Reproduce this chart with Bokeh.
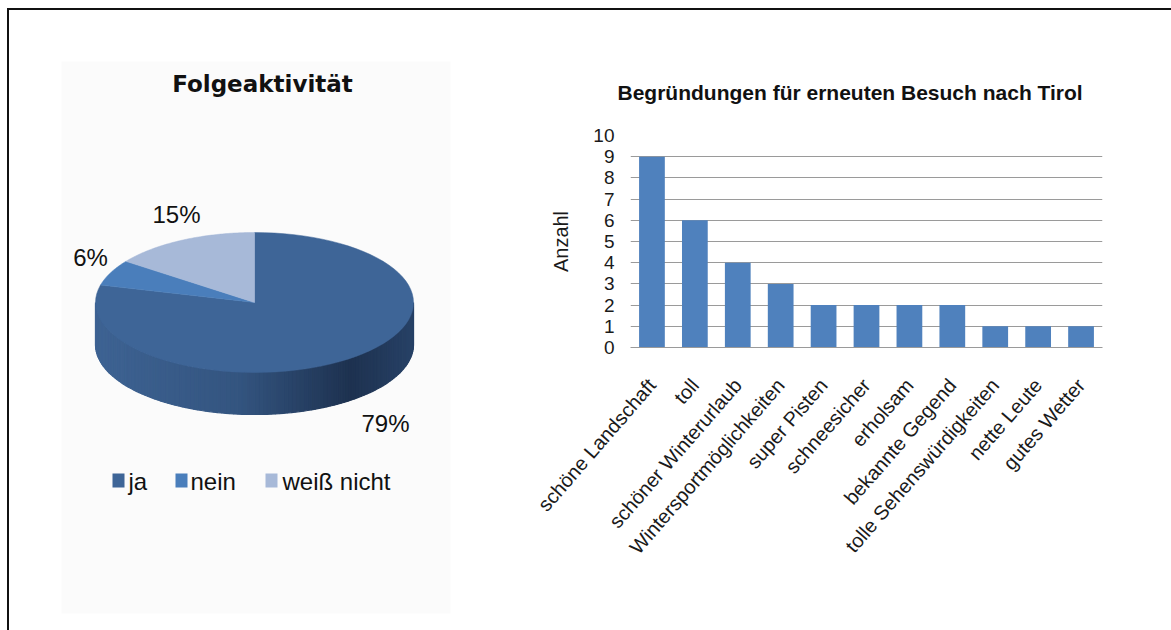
import numpy as np
from bokeh.plotting import figure
from bokeh.layouts import row
from bokeh.models import Range1d, FactorRange, FixedTicker, ColumnDataSource
from bokeh.core.properties import value
from bokeh.embed import file_html
from bokeh.resources import INLINE

# ---------------- data ----------------
pie_title = "Folgeaktivität"
pie_labels = ["ja", "nein", "weiß nicht"]
pie_values = [79, 6, 15]
pie_colors = ["#3e6597", "#4a7ebb", "#a7b9d8"]

bar_title = "Begründungen für erneuten Besuch nach Tirol"
categories = ["schöne Landschaft", "toll", "schöner Winterurlaub",
              "Wintersportmöglichkeiten", "super Pisten", "schneesicher",
              "erholsam", "bekannte Gegend", "tolle Sehenswürdigkeiten",
              "nette Leute", "gutes Wetter"]
counts = [9, 6, 4, 3, 2, 2, 2, 2, 1, 1, 1]
y_ticks = list(range(0, 11))
y_label = "Anzahl"

# ---------------- layout constants (page pixels) ----------------
OX, OY = 9, 10           # top-left of content (after border)
H = 620
PW = 511
BW = 651

# pie geometry
CX, CY, RX, RY, DEPTH = 254, 302, 159, 70, 42

# ---------------- pie figure ----------------
pie = figure(width=PW, height=H, x_range=Range1d(OX, OX + PW),
             y_range=Range1d(OY + H, OY), x_axis_type=None, y_axis_type=None,
             toolbar_location=None, output_backend="svg", min_border=0,
             outline_line_color=None, background_fill_color="white",
             border_fill_color="white")
pie.frame_align = False
pie.grid.visible = False

# light panel
pie.quad(left=[61], right=[450], top=[61], bottom=[613],
         fill_color="#fbfbfb", line_color=None)

def ell(t_deg, dy=0.0):
    t = np.deg2rad(t_deg)
    return CX + RX * np.sin(t), CY - RY * np.cos(t) + dy

# side (front half) with shading gradient
stops_f = [0.0, 0.45, 0.8, 1.0]
stops_c = [(62, 99, 147), (52, 85, 128), (30, 50, 80), (40, 66, 103)]
def shade(f):
    r = int(np.interp(f, stops_f, [c[0] for c in stops_c]))
    g = int(np.interp(f, stops_f, [c[1] for c in stops_c]))
    b = int(np.interp(f, stops_f, [c[2] for c in stops_c]))
    return "#%02x%02x%02x" % (r, g, b)

N = 120
ts = np.linspace(90, 270, N + 1)
sx, sy, sc = [], [], []
for i in range(N):
    x0, y0 = ell(ts[i]); x1, y1 = ell(ts[i + 1])
    sx.append([x0, x1, x1, x0])
    sy.append([y0, y1, y1 + DEPTH, y0 + DEPTH])
    f = ((x0 + x1) / 2 - (CX - RX)) / (2 * RX)
    sc.append(shade(f))
pie.patches(xs=sx, ys=sy, fill_color=sc, line_color=sc, line_width=1.2)

# top slices (clockwise from 12 o'clock)
total = float(sum(pie_values))
cum = np.concatenate([[0.0], np.cumsum(pie_values) / total * 360.0])
xs, ys = [], []
for i in range(len(pie_values)):
    tt = np.linspace(cum[i], cum[i + 1], 80)
    ex, ey = ell(tt)
    xs.append([CX] + list(ex))
    ys.append([CY] + list(ey))
pie.patches(xs=xs, ys=ys, fill_color=pie_colors, line_color=pie_colors, line_width=0.5)

# percent labels
pct = ["%d%%" % round(v / total * 100) for v in pie_values]
lab_x = [385, 90, 176]
lab_y = [423, 257, 214]
pie.text(x=lab_x, y=lab_y, text=pct, text_align="center", text_baseline="middle",
         text_font=value("Liberation Sans"), text_font_size="24px", text_color="#111111")

# title
pie.text(x=[262], y=[83], text=[pie_title], text_align="center", text_baseline="middle",
         text_font=value("DejaVu Sans"), text_font_style="bold",
         text_font_size="23px", text_color="#111111")

# legend
sq_x = [118, 181, 271]
tx_x = [128, 190, 282]
LY = 480
pie.rect(x=sq_x, y=[LY] * 3, width=12, height=14, fill_color=pie_colors, line_color=None)
pie.text(x=tx_x, y=[LY + 1] * 3, text=pie_labels, text_align="left", text_baseline="middle",
         text_font=value("Liberation Sans"), text_font_size="24px", text_color="#111111")

# ---------------- bar figure ----------------
bar = figure(width=BW, height=H, x_range=FactorRange(*categories, range_padding=0),
             y_range=Range1d(0, 10), toolbar_location=None, output_backend="svg",
             min_border_left=110, min_border_right=BW - 110 - 472, min_border_top=125,
             min_border_bottom=H - 125 - 212, outline_line_color=None,
             background_fill_color="white", border_fill_color="white",
             title=bar_title)
bar.frame_align = False
bar.title.align = "left"
bar.title.offset = -13
bar.title.text_font = "Liberation Sans"
bar.title.text_font_size = "21px"
bar.title.text_font_style = "bold"
bar.title.text_color = "#111111"
bar.title.standoff = 64

src = ColumnDataSource(dict(cat=categories, n=counts))
bar.vbar(x="cat", top="n", width=0.6, source=src, fill_color="#4f81bd", line_color=None)

bar.xgrid.visible = False
bar.ygrid.grid_line_color = "#9a9a9a"
bar.ygrid.grid_line_width = 1
bar.yaxis.ticker = FixedTicker(ticks=y_ticks)
bar.yaxis.axis_line_color = None
bar.yaxis.major_tick_line_color = None
bar.yaxis.minor_tick_line_color = None
bar.yaxis.major_label_standoff = 10
bar.yaxis.major_label_text_font = "Liberation Sans"
bar.yaxis.major_label_text_font_size = "19px"
bar.yaxis.major_label_text_color = "#1a1a1a"
bar.yaxis.axis_label = y_label
bar.yaxis.axis_label_text_font = "Liberation Sans"
bar.yaxis.axis_label_text_font_size = "20px"
bar.yaxis.axis_label_text_font_style = "normal"
bar.yaxis.axis_label_text_color = "#1a1a1a"
bar.yaxis.axis_label_standoff = 18

bar.xaxis.axis_line_color = "#9a9a9a"
bar.xaxis.major_tick_line_color = None
bar.xaxis.minor_tick_line_color = None
bar.xaxis.major_label_orientation = np.deg2rad(49)
bar.xaxis.major_label_standoff = 28
bar.xaxis.major_label_text_font = "Liberation Sans"
bar.xaxis.major_label_text_font_size = "20px"
bar.xaxis.major_label_text_color = "#1a1a1a"

layout = row(pie, bar, styles={"border-left": "2px solid #111111",
                               "border-top": "2px solid #111111",
                               "border-right": "0px none",
                               "border-bottom": "0px none",
                               "margin-left": "7px", "margin-top": "8px"})

open("out.html", "w").write(file_html(layout, INLINE))
